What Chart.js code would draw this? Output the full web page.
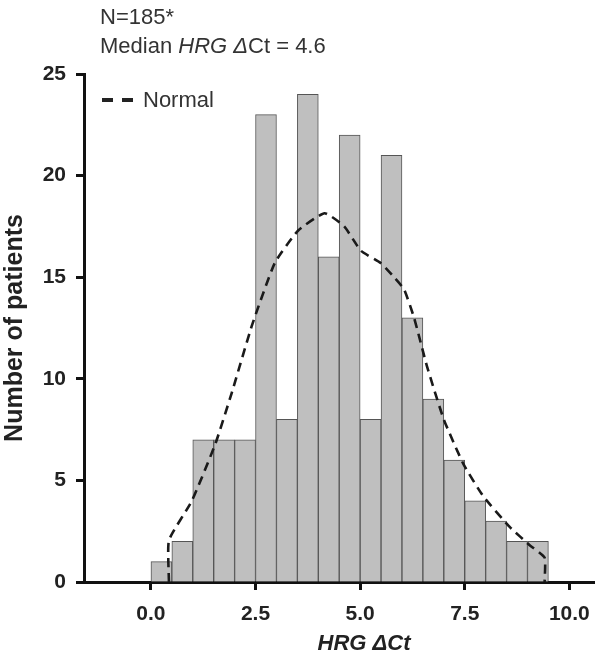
<!DOCTYPE html>
<html>
<head>
<meta charset="utf-8">
<script src="https://cdn.jsdelivr.net/npm/chart.js@4/dist/chart.umd.min.js"></script>
<style>
  body { margin:0; background:#fff; }
  #wrap { position:relative; width:602px; height:661px; font-family:"Liberation Sans", Arial, sans-serif; }
  #note { position:absolute; left:100px; top:2px; font-size:22px; line-height:29px; color:#333; }
  #legend { position:absolute; left:102px; top:87px; height:26px; display:flex; align-items:center; font-size:22px; color:#333; }
  #legend .dash { display:inline-block; width:11px; height:4px; background:#222; margin-right:9px; }
  #legend span.txt { margin-left:1px; }
  #xtitle { position:absolute; left:264px; width:200px; top:629px; text-align:center; font-size:22px; line-height:28px;
            font-weight:bold; font-style:italic; color:#222; }
  canvas { position:absolute; left:0; top:0; }
</style>
</head>
<body>
<div id="wrap">
  <canvas id="chart" width="602" height="661"></canvas>
  <div id="note">N=185*<br>Median <i>HRG</i> <i>&Delta;</i>Ct = 4.6</div>
  <div id="legend"><span class="dash"></span><span class="dash"></span><span class="txt">Normal</span></div>
  <div id="xtitle">HRG &Delta;Ct</div>
</div>
<script>
/* ---------- data ---------- */
// histogram bins: left edge of each 0.5-wide bin
const binStarts = [0.0,0.5,1.0,1.5,2.0,2.5,3.0,3.5,4.0,4.5,5.0,5.5,6.0,6.5,7.0,7.5,8.0,8.5,9.0];
const binCounts = [1,2,7,7,7,23,8,24,16,22,8,21,13,9,6,4,3,2,2];
const binWidth = 0.5;

// fitted normal curve
const curveX = [0.43,0.43,0.98,1.54,1.93,2.41,2.96,3.52,4.15,4.62,5.02,5.49,5.81,6.05,6.29,6.60,7.00,7.47,7.95,8.58,9.06,9.41,9.41];
const curveY = [0,2.05,4.0,6.8,9.3,12.6,15.7,17.3,18.15,17.5,16.3,15.7,15.0,14.4,13.0,10.6,8.0,5.8,4.2,2.7,1.8,1.2,0];

const xTicks = [0, 2.5, 5, 7.5, 10];
const yTicks = [0, 5, 10, 15, 20, 25];

/* ---------- chart ---------- */
const FONT = '"Liberation Sans", Arial, sans-serif';
const ink = '#111';

const bars = binStarts.map((s,i) => ({ x: s + binWidth/2, y: binCounts[i] }));
const curve = curveX.map((x,i) => ({ x, y: curveY[i] }));

new Chart(document.getElementById('chart'), {
  data: {
    datasets: [
      { type:'line', label:'Normal', data: curve, borderColor:'#1a1a1a', borderWidth:2.6,
        borderDash:[9,6], pointRadius:0, tension:0.15, fill:false, order:0 },
      { type:'bar', label:'Count', data: bars, backgroundColor:'#bfbfbf', borderColor:'#555',
        borderWidth:1, barPercentage:1, categoryPercentage:1, grouped:false, order:1 }
    ]
  },
  options: {
    responsive:false, animation:false,
    layout:{ padding:{ top:74, right:5, left:0, bottom:0 } },
    plugins:{ legend:{ display:false }, tooltip:{ enabled:false } },
    scales:{
      x:{
        type:'linear', min:-1.6, max:10.6, offset:false,
        afterBuildTicks: s => { s.ticks = xTicks.map(v => ({ value:v })); },
        afterFit: s => { s.height = 79; },
        border:{ display:true, width:3, color:ink },
        grid:{ offset:false, drawOnChartArea:false, drawTicks:true, tickLength:8, tickWidth:3, tickColor:ink },
        ticks:{ padding:12, color:'#222', font:{ family:FONT, size:21, weight:'bold' },
          callback: v => Number(v).toFixed(1), maxRotation:0 },
        title:{ display:false }
      },
      y:{
        min:0, max:25,
        afterBuildTicks: s => { s.ticks = yTicks.map(v => ({ value:v })); },
        afterFit: s => { s.width = 84; },
        border:{ display:true, width:3, color:ink },
        grid:{ drawOnChartArea:false, drawTicks:true, tickLength:8, tickWidth:3, tickColor:ink },
        ticks:{ padding:10, color:'#222', font:{ family:FONT, size:21, weight:'bold' } },
        title:{ display:true, text:'Number of patients', color:'#222', padding:{ top:0, bottom:0 },
          font:{ family:FONT, size:25, weight:'bold' } }
      }
    }
  }
});
</script>
</body>
</html>
